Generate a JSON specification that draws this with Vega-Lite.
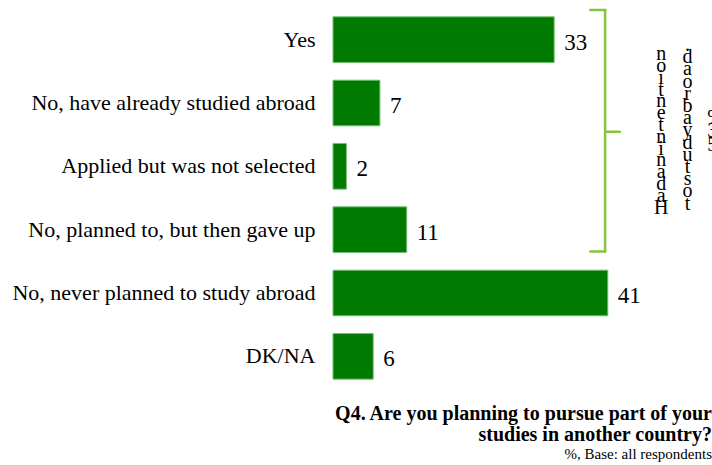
{
  "$schema": "https://vega.github.io/schema/vega-lite/v6.json",
  "width": 379,
  "height": 380,
  "autosize": {"type": "none"},
  "padding": {"left": 333, "top": 8, "right": 0, "bottom": 77},
  "config": {"view": {"stroke": null}, "font": "Liberation Serif"},
  "title": {
    "text": ["Q4. Are you planning to pursue part of your", "studies in another country?"],
    "subtitle": "%, Base: all respondents",
    "orient": "bottom",
    "anchor": "end",
    "frame": "group",
    "offset": 16,
    "font": "Liberation Serif",
    "fontSize": 20,
    "fontWeight": "bold",
    "color": "black",
    "lineHeight": 21,
    "subtitleFont": "Liberation Serif",
    "subtitleFontSize": 15,
    "subtitleColor": "black",
    "subtitlePadding": 2
  },
  "datasets": {
    "bars": [
      {"label": "Yes", "value": 33},
      {"label": "No, have already studied abroad", "value": 7},
      {"label": "Applied but was not selected", "value": 2},
      {"label": "No, planned to, but then gave up", "value": 11},
      {"label": "No, never planned to study abroad", "value": 41},
      {"label": "DK/NA", "value": 6}
    ],
    "notes": [
      {"col": "a", "txt": "n\no\ni\nt\nn\ne\nt\nn\ni\nn\na\nd\na\nH"},
      {"col": "b", "txt": ".\nd\na\no\nr\nb\na\ny\nd\nu\nt\ns\no\nt"},
      {"col": "c", "txt": "%\n3\n5"}
    ]
  },
  "layer": [
    {
      "data": {"name": "bars"},
      "mark": {"type": "bar", "color": "#007a00", "stroke": "#6fbf6f", "strokeWidth": 1},
      "encoding": {
        "y": {
          "field": "label", "type": "nominal", "sort": null,
          "scale": {
            "domain": ["Yes", "No, have already studied abroad", "Applied but was not selected", "No, planned to, but then gave up", "No, never planned to study abroad", "DK/NA"],
            "paddingInner": 0.28, "paddingOuter": 0.14
          },
          "axis": {"title": null, "ticks": false, "domain": false, "grid": false, "labelPadding": 18, "labelLimit": 0, "labelFont": "Liberation Serif", "labelFontSize": 22, "labelColor": "black"}
        },
        "x": {"field": "value", "type": "quantitative", "scale": {"domain": [0, 56.55], "nice": false}, "axis": null}
      }
    },
    {
      "data": {"name": "bars"},
      "mark": {"type": "text", "align": "left", "baseline": "middle", "dx": 10, "dy": 3, "font": "Liberation Serif", "fontSize": 23, "color": "black"},
      "encoding": {
        "y": {"field": "label", "type": "nominal", "sort": null},
        "x": {"field": "value", "type": "quantitative"},
        "text": {"field": "value", "type": "quantitative"}
      }
    },
    {
      "data": {"values": [{}]},
      "mark": {"type": "rule", "color": "#86c440", "strokeWidth": 2.5, "strokeCap": "round"},
      "encoding": {
        "x": {"datum": 40.6, "type": "quantitative"},
        "y": {"datum": "Yes", "type": "nominal", "bandPosition": -0.15},
        "y2": {"datum": "No, planned to, but then gave up", "bandPosition": 0.98}
      }
    },
    {
      "data": {"values": [{}]},
      "mark": {"type": "rule", "color": "#86c440", "strokeWidth": 2.5, "strokeCap": "round"},
      "encoding": {
        "x": {"datum": 38.4, "type": "quantitative"},
        "x2": {"datum": 40.6},
        "y": {"datum": "Yes", "type": "nominal", "bandPosition": -0.15}
      }
    },
    {
      "data": {"values": [{}]},
      "mark": {"type": "rule", "color": "#86c440", "strokeWidth": 2.5, "strokeCap": "round"},
      "encoding": {
        "x": {"datum": 38.4, "type": "quantitative"},
        "x2": {"datum": 40.6},
        "y": {"datum": "No, planned to, but then gave up", "type": "nominal", "bandPosition": 0.98}
      }
    },
    {
      "data": {"values": [{}]},
      "mark": {"type": "rule", "color": "#86c440", "strokeWidth": 2.5, "strokeCap": "round"},
      "encoding": {
        "x": {"datum": 40.6, "type": "quantitative"},
        "x2": {"datum": 42.8},
        "y": {"datum": "No, have already studied abroad", "type": "nominal", "bandPosition": 1.13}
      }
    },
    {
      "data": {"name": "notes"},
      "transform": [{"filter": "datum.col == 'a'"}],
      "mark": {"type": "text", "align": "center", "baseline": "top", "lineBreak": "\n", "lineHeight": 11.8, "font": "Liberation Serif", "fontSize": 20, "color": "black"},
      "encoding": {
        "x": {"datum": 48.96, "type": "quantitative"},
        "y": {"datum": "Yes", "type": "nominal", "bandPosition": 0.6},
        "text": {"field": "txt"}
      }
    },
    {
      "data": {"name": "notes"},
      "transform": [{"filter": "datum.col == 'b'"}],
      "mark": {"type": "text", "align": "center", "baseline": "top", "lineBreak": "\n", "lineHeight": 12.2, "font": "Liberation Serif", "fontSize": 20, "color": "black"},
      "encoding": {
        "x": {"datum": 52.9, "type": "quantitative"},
        "y": {"datum": "Yes", "type": "nominal", "bandPosition": 0.4},
        "text": {"field": "txt"}
      }
    },
    {
      "data": {"name": "notes"},
      "transform": [{"filter": "datum.col == 'c'"}],
      "mark": {"type": "text", "align": "left", "baseline": "top", "lineBreak": "\n", "lineHeight": 13.5, "font": "Liberation Serif", "fontSize": 20, "color": "black"},
      "encoding": {
        "x": {"datum": 55.85, "type": "quantitative"},
        "y": {"datum": "No, have already studied abroad", "type": "nominal", "bandPosition": 0.6},
        "text": {"field": "txt"}
      }
    }
  ]
}
